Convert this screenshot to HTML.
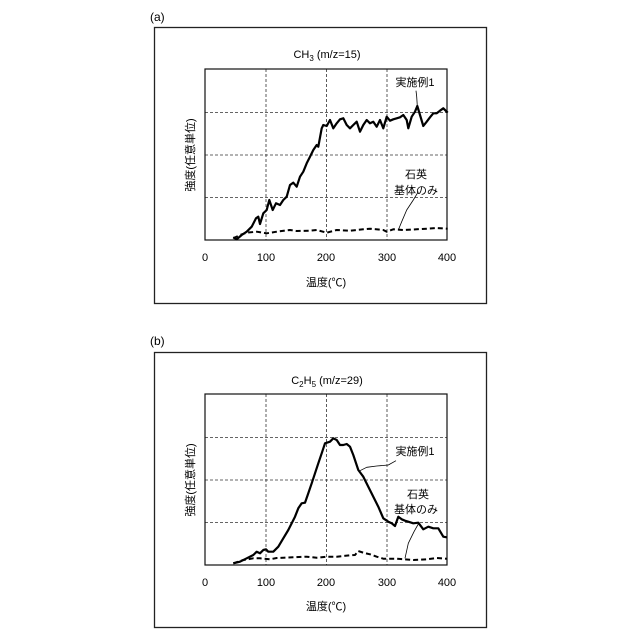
<!DOCTYPE html>
<html><head><meta charset="utf-8"><style>
html,body{margin:0;padding:0;background:#fff;}
svg{display:block;font-family:"Liberation Sans","Noto Sans CJK JP",sans-serif;}
</style></head><body>
<svg id="s" width="640" height="640" viewBox="0 0 640 640" xmlns="http://www.w3.org/2000/svg">
<rect width="640" height="640" fill="#fff"/>
<!-- panel a -->
<text x="150" y="21" font-size="12">(a)</text>
<rect x="154.5" y="27.5" width="332" height="276" fill="none" stroke="#222" stroke-width="1.3"/>
<text x="327" y="58" font-size="11" text-anchor="middle">CH<tspan font-size="8" dy="3">3</tspan><tspan dy="-3"> (m/z=15)</tspan></text>
<g stroke="#333" stroke-width="0.8" stroke-dasharray="3,2">
<line x1="266" y1="69" x2="266" y2="240"/><line x1="326.5" y1="69" x2="326.5" y2="240"/><line x1="387" y1="69" x2="387" y2="240"/>
<line x1="205" y1="112.5" x2="447" y2="112.5"/><line x1="205" y1="155" x2="447" y2="155"/><line x1="205" y1="197.5" x2="447" y2="197.5"/>
</g>
<rect x="205" y="69" width="242" height="171" fill="none" stroke="#111" stroke-width="1.2"/>
<g font-size="11" text-anchor="middle">
<text x="205" y="261">0</text><text x="266" y="261">100</text><text x="326" y="261">200</text><text x="387" y="261">300</text><text x="447" y="261">400</text>
<text x="326" y="286">温度(℃)</text>
<text x="415" y="86">実施例1</text><text x="416" y="178">石英</text><text x="416" y="194">基体のみ</text>
<text transform="translate(194,155) rotate(-90)">強度(任意単位)</text>
</g>
<!-- panel b -->
<text x="150" y="345" font-size="12">(b)</text>
<rect x="154.5" y="352.5" width="332" height="275" fill="none" stroke="#222" stroke-width="1.3"/>
<text x="327" y="384" font-size="11" text-anchor="middle">C<tspan font-size="8" dy="3">2</tspan><tspan dy="-3">H</tspan><tspan font-size="8" dy="3">5</tspan><tspan dy="-3"> (m/z=29)</tspan></text>
<g stroke="#333" stroke-width="0.8" stroke-dasharray="3,2">
<line x1="266" y1="394" x2="266" y2="565"/><line x1="326.5" y1="394" x2="326.5" y2="565"/><line x1="387" y1="394" x2="387" y2="565"/>
<line x1="205" y1="437.5" x2="447" y2="437.5"/><line x1="205" y1="480" x2="447" y2="480"/><line x1="205" y1="522.5" x2="447" y2="522.5"/>
</g>
<rect x="205" y="394" width="242" height="171" fill="none" stroke="#111" stroke-width="1.2"/>
<g font-size="11" text-anchor="middle">
<text x="205" y="586">0</text><text x="266" y="586">100</text><text x="326" y="586">200</text><text x="387" y="586">300</text><text x="447" y="586">400</text>
<text x="326" y="610">温度(℃)</text>
<text x="415" y="455">実施例1</text><text x="418" y="498">石英</text><text x="416" y="513">基体のみ</text>
<text transform="translate(194,480) rotate(-90)">強度(任意単位)</text>
</g>
</svg>
<script>
function P(pts,dy,w,dash){var d=pts.map(function(p,i){return (i?'L':'M')+(150+p[0]/3).toFixed(1)+' '+(dy+p[1]/3).toFixed(1)}).join(' ');
var e=document.createElementNS('http://www.w3.org/2000/svg','path');e.setAttribute('d',d);e.setAttribute('fill','none');e.setAttribute('stroke','#000');e.setAttribute('stroke-width',w);e.setAttribute('stroke-linejoin','round');if(dash)e.setAttribute('stroke-dasharray',dash);document.getElementById('s').appendChild(e);}
P([[250,712],[260,718],[275,705],[290,695],[305,680],[318,655],[325,650],[330,672],[340,640],[350,630],[358,600],[368,630],[378,610],[390,615],[400,600],[410,590],[420,555],[430,548],[440,560],[450,530],[460,515],[470,490],[480,470],[490,450],[500,435],[505,440],[515,385],[520,375],[530,378],[540,360],[550,385],[560,370],[570,358],[580,355],[590,375],[600,385],[610,375],[620,365],[630,395],[640,375],[650,360],[660,370],[670,365],[680,380],[690,360],[700,385],[710,350],[720,362],[730,358],[740,355],[750,352],[760,345],[770,360],[775,385],[785,350],[795,335],[802,318],[810,345],[820,378],[830,365],[840,352],[850,340],[860,340],[870,332],[880,325],[893,338]],0,2.2);
P([[250,715],[270,705],[290,698],[320,695],[350,700],[380,695],[420,690],[440,693],[480,692],[500,690],[530,698],[560,690],[600,692],[640,688],[660,686],[700,690],[710,695],[730,688],[760,690],[800,688],[830,686],[860,684],[893,686]],0,2,'5,3');
P([[798,272],[800,290],[802,318]],0,0.8);
P([[805,575],[790,600],[770,630],[755,665],[745,690]],0,0.8);
P([[250,700],[270,695],[290,685],[310,675],[320,665],[330,670],[340,660],[348,658],[355,665],[370,665],[385,650],[400,625],[415,600],[425,580],[435,560],[445,535],[455,520],[465,518],[475,490],[485,460],[495,430],[505,400],[515,370],[525,340],[540,335],[550,325],[560,330],[570,345],[580,345],[590,342],[600,350],[610,375],[625,420],[640,440],[655,470],[670,500],[685,530],[700,565],[715,575],[725,580],[735,588],[745,560],[755,568],[765,572],[775,575],[790,580],[805,578],[820,598],[835,590],[850,595],[865,595],[880,620],[890,622]],330,2.2);
P([[250,700],[280,690],[310,685],[330,685],[360,688],[380,684],[400,683],[430,682],[470,680],[500,683],[530,680],[560,680],[600,676],[615,675],[625,663],[640,668],[660,673],[680,680],[700,686],[740,686],[790,690],[830,688],[860,684],[890,686]],330,2,'5,3');
P([[738,392],[715,405],[680,408],[650,412],[630,422]],330,0.8);
P([[805,582],[792,605],[775,640],[765,685]],330,0.8);
</script>
</body></html>
